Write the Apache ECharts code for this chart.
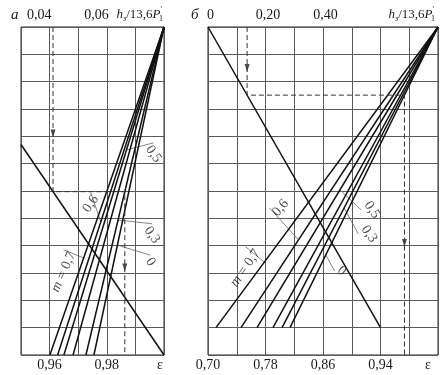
<!DOCTYPE html>
<html><head><meta charset="utf-8">
<script src="https://cdn.jsdelivr.net/npm/echarts@6/dist/echarts.min.js"></script>
<style>html,body{margin:0;padding:0;background:#fff}#c{width:444px;height:375px}</style>
</head><body><div id="c"></div>
<script>
// ---------- Panel а ----------
const mValues = ['0,7', '0,6', '0,5', '0,4', '0,3', '0'];
const epsBottomA = [0.9601, 0.9628, 0.9650, 0.9682, 0.9727, 0.9755]; // ε where each m-line meets the bottom (y=0)
const fanTopA = [1.00, 12];
const fanBottomYA = 0;
const refLineA = [[0.95, 7.7], [1.00, 0]];
const bottomTicksA = [0.96, 0.98];
const topTicksA = [0.04, 0.06];
const hStartA = 0.0412;       // example value on top scale
const exampleLineA = 4;       // m-line used by the example
const arrowsYA = [8.1, 3.2];

// ---------- Panel б ----------
const epsBottomB = [0.7111, 0.7459, 0.7682, 0.7904, 0.8030, 0.8141];
const fanTopB = [1.02, 12];
const fanBottomYB = 1;
const refLineB = [[0.70, 12], [0.94, 1]];
const bottomTicksB = [0.70, 0.78, 0.86, 0.94];
const topTicksB = [0, 0.20, 0.40];
const hStartB = 0.136;
const exampleLineB = 5;
const arrowsYB = [10.5, 4.1];

const SERIF = '"Liberation Serif","DejaVu Serif",serif';
const TXT = '#1a1a1a';

const panels = [
  {grid: 0, xMin: 0.95, xMax: 1.00, xInt: 0.01, hMin: 0.03, hMax: 0.08, hInt: 0.01,
   bottom: epsBottomA, top: fanTopA, by: fanBottomYA, ref: refLineA, h: hStartA, ex: exampleLineA, arrows: arrowsYA,
   labels: [
     {i: 0, y: 3.55, dx: -20, dy: 14, rot: 66, t: '{it|m} = 0,7'},
     {i: 1, y: 4.87, dx: -10, dy: -18, rot: 55, t: '0,6'},
     {i: 2, y: 7.5, dx: 27, dy: 4, rot: -55, t: '0,5'},
     {i: 4, y: 4.94, dx: 34, dy: 15, rot: -55, t: '0,3'},
     {i: 5, y: 4.02, dx: 33, dy: 17, rot: -55, t: '0'}
   ]},
  {grid: 1, xMin: 0.70, xMax: 1.02, xInt: 0.04, hMin: 0, hMax: 0.8, hInt: 0.1,
   bottom: epsBottomB, top: fanTopB, by: fanBottomYB, ref: refLineB, h: hStartB, ex: exampleLineB, arrows: arrowsYB,
   labels: [
     {i: 0, y: 3.40, dx: -19, dy: 6, rot: 55, t: '{it|m} = 0,7'},
     {i: 1, y: 4.21, dx: -18, dy: -32, rot: 50, t: '0,6'},
     {i: 2, y: 6.04, dx: 32, dy: 20, rot: -55, t: '0,5'},
     {i: 4, y: 5.38, dx: 25, dy: 26, rot: -55, t: '0,3'},
     {i: 5, y: 3.66, dx: 16, dy: 16, rot: -40, t: '0'}
   ]}
];

function fmt(v) { return v === 0 ? '0' : v.toFixed(2).replace('.', ','); }
function near(a, b) { return Math.abs(a - b) < 1e-6; }
function fanX(p, i, y) {
  const bx = p.bottom[i];
  return bx + (y - p.by) / (p.top[1] - p.by) * (p.top[0] - bx);
}
// labelLayout offsets are applied in the label's rotated frame: convert a screen offset
function localOffset(X, Y, rotDeg) {
  const r = rotDeg * Math.PI / 180, c = Math.cos(r), s = Math.sin(r);
  return {dx: X * c - Y * s, dy: X * s + Y * c};
}

const nameRich = {
  it: {fontFamily: SERIF, fontStyle: 'italic', fontSize: 13, color: TXT, lineHeight: 17},
  n: {fontFamily: SERIF, fontSize: 13, color: TXT, lineHeight: 17},
  s: {fontFamily: SERIF, fontSize: 8, color: TXT, lineHeight: 8, verticalAlign: 'bottom'},
  p: {fontFamily: SERIF, fontSize: 8, color: TXT, lineHeight: 8, verticalAlign: 'top', padding: [0, -3, 0, 0]}
};
const nameText = '{it|h}{s|з}{n|/13,6}{it|P}{p|\'}{s|1}';

const xAxes = [], yAxes = [], series = [];
const grids = [
  {left: 21, top: 27, width: 143, height: 328, show: true, borderColor: '#222', borderWidth: 1},
  {left: 208, top: 27, width: 230, height: 328, show: true, borderColor: '#222', borderWidth: 1}
];

panels.forEach((p, k) => {
  const ticks = k === 0 ? bottomTicksA : bottomTicksB;
  const tticks = k === 0 ? topTicksA : topTicksB;
  xAxes.push({
    gridIndex: k, type: 'value', position: 'bottom', min: p.xMin, max: p.xMax, interval: p.xInt,
    axisLine: {show: false}, axisTick: {show: false},
    splitLine: {show: true, lineStyle: {color: '#5a5a5a', width: 1}},
    axisLabel: {
      show: true, margin: 3, showMinLabel: true, showMaxLabel: true,
      fontFamily: SERIF, fontSize: 14, color: TXT,
      rich: {e: {fontFamily: SERIF, fontSize: 14, color: TXT, padding: [0, k === 0 ? 8 : 20, 0, 0]}},
      formatter: v => {
        const r = Math.round(v * 100) / 100;
        if (ticks.some(t => near(t, r))) return fmt(r);
        if (near(r, p.xMax)) return '{e|ε}';
        return '';
      }
    }
  });
  xAxes.push({
    gridIndex: k, type: 'value', position: 'top', min: p.hMin, max: p.hMax, interval: p.hInt,
    axisLine: {show: false}, axisTick: {show: false}, splitLine: {show: false},
    name: nameText, nameLocation: 'end', nameGap: k === 0 ? -1 : -3,
    nameTextStyle: {align: 'right', verticalAlign: 'bottom', padding: [0, 0, 4, 0], rich: nameRich},
    axisLabel: {
      show: true, margin: 5, showMinLabel: true, showMaxLabel: true,
      align: k === 0 ? 'right' : 'center', padding: k === 0 ? [0, -2, 0, 0] : [0, 0, 0, 5],
      fontFamily: SERIF, fontSize: 14, color: TXT,
      formatter: v => {
        const r = Math.round(v * 100) / 100;
        return tticks.some(t => near(t, r)) ? fmt(r) : '';
      }
    }
  });
  yAxes.push({
    gridIndex: k, type: 'value', min: 0, max: 12, interval: 1,
    axisLine: {show: false}, axisTick: {show: false}, axisLabel: {show: false},
    splitLine: {show: true, lineStyle: {color: '#5a5a5a', width: 1}}
  });

  const xi = 2 * k, yi = k;
  // m-lines
  p.bottom.forEach((b, i) => {
    series.push({
      type: 'line', xAxisIndex: xi, yAxisIndex: yi, symbol: 'none', silent: true,
      lineStyle: {color: '#111', width: 1.5},
      data: [[b, p.by], p.top]
    });
  });
  // reference (descending) line
  series.push({
    type: 'line', xAxisIndex: xi, yAxisIndex: yi, symbol: 'none', silent: true,
    lineStyle: {color: '#111', width: 1.5}, data: p.ref
  });
  // example dashed path
  const e0 = p.xMin + (p.h - p.hMin) / (p.hMax - p.hMin) * (p.xMax - p.xMin);
  const [r0, r1] = p.ref;
  const y1 = r0[1] + (e0 - r0[0]) / (r1[0] - r0[0]) * (r1[1] - r0[1]);
  const e2 = fanX(p, p.ex, y1);
  series.push({
    type: 'line', xAxisIndex: xi, yAxisIndex: yi, symbol: 'none', silent: true,
    lineStyle: {color: '#333', width: 1, type: [5, 3]},
    data: [[e0, 12], [e0, y1], [e2, y1], [e2, 0]]
  });
  series.push({
    type: 'scatter', xAxisIndex: xi, yAxisIndex: yi, silent: true,
    symbol: 'triangle', symbolRotate: 180, symbolSize: [5, 8],
    itemStyle: {color: '#222'},
    data: [[e0, p.arrows[0]], [e2, p.arrows[1]]]
  });
  // curve labels with leader lines
  series.push({
    type: 'scatter', xAxisIndex: xi, yAxisIndex: yi, silent: true, symbolSize: 0,
    itemStyle: {color: 'rgba(0,0,0,0)'},
    label: {
      show: true, position: 'inside', fontFamily: SERIF, fontSize: 14, color: TXT,
      rich: {it: {fontFamily: SERIF, fontStyle: 'italic', fontSize: 14, color: TXT}}
    },
    labelLine: {show: true, lineStyle: {color: '#666', width: 0.8}},
    labelLayout: prm => {
      const L = p.labels[prm.dataIndex];
      return localOffset(L.dx, L.dy, L.rot);
    },
    data: p.labels.map(L => ({
      value: [fanX(p, L.i, L.y), L.y],
      label: {rotate: L.rot, formatter: L.t}
    }))
  });
});

const chart = echarts.init(document.getElementById('c'), null, {renderer: 'canvas'});
chart.setOption({
  animation: false,
  backgroundColor: '#fff',
  title: [
    {text: 'а', left: 6, top: 3, textStyle: {fontFamily: SERIF, fontStyle: 'italic', fontWeight: 'normal', fontSize: 15, color: TXT}},
    {text: 'б', left: 186, top: 3, textStyle: {fontFamily: SERIF, fontStyle: 'italic', fontWeight: 'normal', fontSize: 15, color: TXT}}
  ],
  grid: grids, xAxis: xAxes, yAxis: yAxes, series: series
});
</script></body></html>
